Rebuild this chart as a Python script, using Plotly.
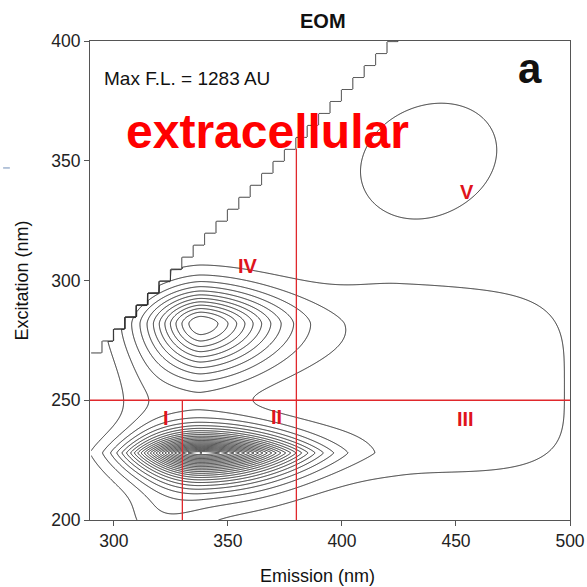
import numpy as np
import plotly.graph_objects as go

emission_nm = np.arange(290.0, 500.01, 0.5)
excitation_nm = np.arange(200.0, 400.01, 0.5)

# fluorescence components (centre, height, half-widths on each side, shape)
peak_names    = ["I/II", "IV", "III", "V", "bridge", "I-low"]
peak_em       = [338.0, 338.0, 425.0, 438.0, 315.0, 320.0]
peak_ex       = [228.0, 282.0, 255.0, 350.0, 252.0, 200.0]
peak_amp      = [1240.0, 640.0, 85.0, 90.0, 45.0, 60.0]
peak_w_left   = [27.0, 24.0, 53.0, 40.0, 15.0, 14.0]
peak_w_right  = [40.0, 34.0, 85.0, 40.0, 15.0, 20.0]
peak_w_down   = [10.0, 21.0, 41.0, 30.0, 20.0, 12.0]
peak_w_up     = [8.0, 14.0, 48.0, 30.0, 20.0, 12.0]
peak_q_left   = [2.0, 1.7, 2.0, 2.0, 2.0, 2.0]
peak_q_right  = [2.0, 1.7, 4.0, 2.0, 2.0, 2.0]
peak_q_ex     = [1.2, 1.7, 4.0, 2.0, 2.0, 2.0]
peak_tilt     = [0.0, 0.0, 0.0, 20.0, 0.0, 0.0]

rayleigh_offset = 25.0   # nm, emission cut-off above excitation
ex_step = 5.0            # excitation increment of the scan

contour_levels = dict(start=50, end=1250, size=50)

x_ticks = [300, 350, 400, 450, 500]
y_ticks = [200, 250, 300, 350, 400]

region_labels = ["I", "II", "III", "IV", "V"]
region_label_em = [323.0, 371.5, 454.0, 359.0, 455.0]
region_label_ex = [242.5, 243.0, 242.0, 306.0, 337.0]

boundary_em = [330.0, 380.0]
boundary_em_top = [250.0, 355.0]
boundary_ex = 250.0

# ---------------- build the surface ----------------
EM, EX = np.meshgrid(emission_nm, excitation_nm)
z = np.zeros_like(EM)
for i in range(len(peak_names)):
    t = np.radians(peak_tilt[i])
    dx = EM - peak_em[i]
    dy = EX - peak_ex[i]
    dxr = dx * np.cos(t) + dy * np.sin(t)
    dyr = -dx * np.sin(t) + dy * np.cos(t)
    left = dxr < 0
    wx = np.where(left, peak_w_left[i], peak_w_right[i])
    qx = np.where(left, peak_q_left[i], peak_q_right[i])
    wy = np.where(dyr < 0, peak_w_down[i], peak_w_up[i])
    z += peak_amp[i] * np.exp(-(np.abs(dxr) / wx) ** qx
                              - (np.abs(dyr) / wy) ** peak_q_ex[i])

valid = EM >= np.floor(EX / ex_step) * ex_step + rayleigh_offset
z_map = np.round(np.where(valid, z, 0.0), 2)

fig = go.Figure()
fig.add_trace(go.Contour(
    x=emission_nm, y=excitation_nm, z=z_map,
    contours=dict(coloring="none", **contour_levels),
    line=dict(color="#262626", width=1, smoothing=0.6),
    showscale=False, hoverinfo="skip"))
fig.add_trace(go.Contour(
    x=emission_nm, y=excitation_nm, z=valid.astype(float),
    contours=dict(coloring="none", start=0.5, end=0.5, size=1),
    line=dict(color="#262626", width=1, smoothing=0),
    showscale=False, hoverinfo="skip"))

red_line = dict(color="#e0282c", width=1.3)
shapes = [dict(type="line", xref="x", yref="y", x0=289.5, x1=500,
               y0=boundary_ex, y1=boundary_ex, line=red_line)]
for e, top in zip(boundary_em, boundary_em_top):
    shapes.append(dict(type="line", xref="x", yref="y", x0=e, x1=e,
                       y0=200, y1=top, line=red_line))
shapes.append(dict(type="line", xref="paper", yref="paper",
                   x0=-0.181, x1=-0.167, y0=0.735, y1=0.735,
                   line=dict(color="#9fb3cf", width=1.5)))

font = "Liberation Sans, Arial, sans-serif"
ann = []
for lab, xe, ye in zip(region_labels, region_label_em, region_label_ex):
    ann.append(dict(x=xe, y=ye, xref="x", yref="y", text="<b>%s</b>" % lab,
                    xanchor="center", yanchor="middle", showarrow=False,
                    font=dict(family="Liberation Sans Narrow, " + font,
                              size=20, color="#e0141c")))
ann += [
    dict(x=0.485, y=1.0418, xref="paper", yref="paper", text="<b>EOM</b>",
         xanchor="center", yanchor="middle", showarrow=False,
         font=dict(family=font, size=20, color="#111")),
    dict(x=294.7, y=384.2, xref="x", yref="y", xanchor="left", yanchor="middle",
         text="Max F.L. = 1283 AU", showarrow=False,
         font=dict(family=font, size=19, color="#111")),
    dict(x=367.3, y=362.3, xref="x", yref="y", xanchor="center", yanchor="middle",
         text="<b>extracellular</b>", showarrow=False,
         font=dict(family=font, size=48, color="#ff0000")),
    dict(x=0.9167, y=0.9426, xref="paper", yref="paper", xanchor="center",
         yanchor="middle", text="<b>a</b>", showarrow=False,
         font=dict(family=font, size=42, color="#111")),
    dict(x=0.473, y=-0.1165, xref="paper", yref="paper", xanchor="center",
         yanchor="middle", text="Emission (nm)", showarrow=False,
         font=dict(family=font, size=18, color="#111")),
    dict(x=-0.1417, y=0.5, xref="paper", yref="paper", xanchor="center",
         yanchor="middle", text="Excitation (nm)", textangle=-90, showarrow=False,
         font=dict(family=font, size=18, color="#111")),
]

axis_common = dict(showgrid=False, zeroline=False, showline=True, mirror=True,
                   linecolor="#555", linewidth=1, ticks="outside", ticklen=5,
                   tickcolor="#555", automargin=False,
                   tickfont=dict(family=font, size=17.5, color="#222"))
fig.update_layout(
    width=587, height=587, autosize=False,
    margin=dict(l=90, r=17, t=41, b=67),
    paper_bgcolor="white", plot_bgcolor="white",
    xaxis=dict(range=[289.5, 500], tickvals=x_ticks, **axis_common),
    yaxis=dict(range=[200, 400], tickvals=y_ticks, **axis_common),
    shapes=shapes, annotations=ann, showlegend=False)

fig.write_html("out.html")
